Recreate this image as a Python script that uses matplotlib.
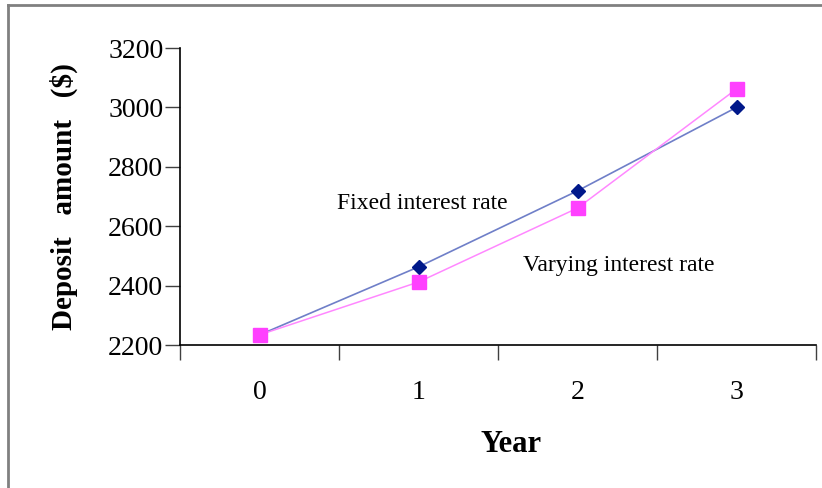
import matplotlib
matplotlib.use('Agg')
from matplotlib import pyplot as plt
from matplotlib.lines import Line2D

years = ['0', '1', '2', '3']
fixed_rate = [2234, 2463, 2719, 3000]
varying_rate = [2234, 2412, 2661, 3062]
y_ticks = [2200, 2400, 2600, 2800, 3000, 3200]

plt.rcParams['font.family'] = ['Liberation Serif', 'DejaVu Serif']

fig = plt.figure(figsize=(8.22, 4.88), dpi=100)
ax = fig.add_axes([180/822, 1 - 345/488, 636/822, 297/488])

x = range(len(years))
ax.plot(x, fixed_rate, color='#6f7fc8', lw=1.2, marker='D', ms=7,
        mfc='#00188a', mec='#00188a', zorder=2)
ax.plot(x, varying_rate, color='#ff88ff', lw=1.1, marker='s', ms=9.5,
        mfc='#ff40ff', mec='#ff40ff', zorder=3)

ax.set_xlim(-0.5, len(years) - 0.5)
ax.set_ylim(2200, 3200)
ax.set_yticks(y_ticks)
ax.set_yticklabels([str(v) for v in y_ticks], fontsize=20)
ax.tick_params(axis='y', length=11, width=1, color='#404040', pad=1)

ax.set_xticks(list(x))
ax.set_xticklabels(years, fontsize=20)
ax.set_xticks([i - 0.5 for i in range(len(years) + 1)], minor=True)
ax.tick_params(axis='x', which='major', length=0, pad=25)
ax.tick_params(axis='x', which='minor', length=11, width=1, color='#404040')

for s in ['top', 'right']:
    ax.spines[s].set_visible(False)
ax.spines['left'].set_linewidth(1.2)
ax.spines['bottom'].set_linewidth(1.2)

ax.set_xlabel('Year', fontsize=22, fontweight='bold')
ax.xaxis.set_label_coords(0.52, -0.285)
ax.set_ylabel('Deposit   amount   ($)', fontsize=21, fontweight='bold', labelpad=22)

ax.text(0.49, 2678, 'Fixed interest rate', fontsize=17, va='center')
ax.text(1.66, 2469, 'Varying interest rate', fontsize=17, va='center')

# outer frame (only top and left are visible in the original)
fig.add_artist(Line2D([8/822, 1], [1 - 5/488] * 2, color='#808080', lw=2,
                      transform=fig.transFigure))
fig.add_artist(Line2D([8/822] * 2, [0, 1 - 5/488], color='#808080', lw=2,
                      transform=fig.transFigure))

plt.savefig('out.png', dpi=100)
